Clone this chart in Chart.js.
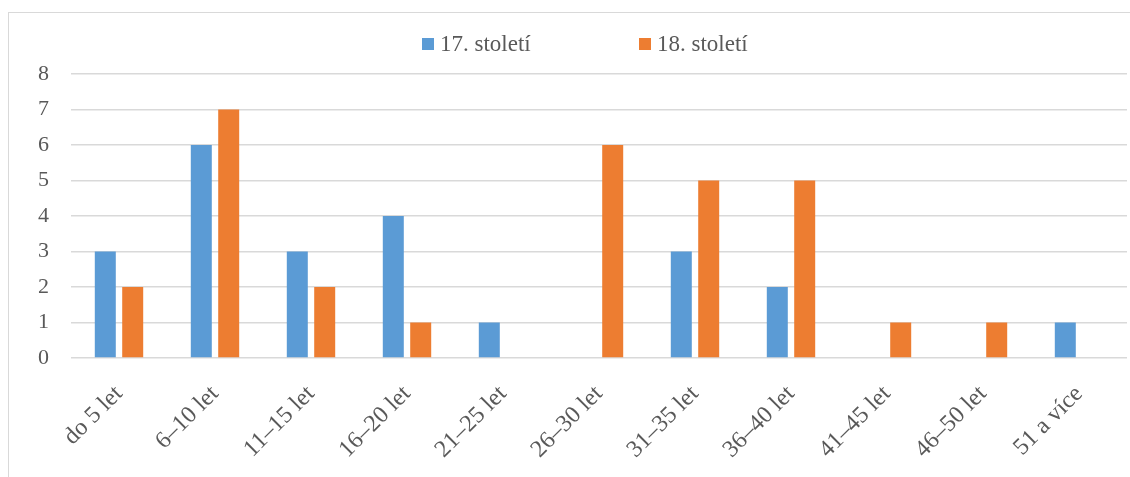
<!DOCTYPE html>
<html>
<head>
<meta charset="utf-8">
<script src="https://cdn.jsdelivr.net/npm/chart.js@4.4.1/dist/chart.umd.min.js"></script>
<style>
  html, body { margin: 0; padding: 0; background: #fff; overflow: hidden; }
  #wrap { position: relative; width: 1130px; height: 477px; }
  #frame { position: absolute; left: 8px; top: 12px; width: 1140px; height: 500px;
           border: 1.5px solid #d9d9d9; box-sizing: border-box; }
  #chart { position: absolute; left: 0; top: 0; }
  .legend { position: absolute; top: 31px; font: 23px "Liberation Serif", "Times New Roman", serif;
            color: #595959; white-space: nowrap; }
  .legend span.box { display: inline-block; width: 12px; height: 12px; margin-right: 6px;
                     vertical-align: 1px; }
</style>
</head>
<body>
<div id="wrap">
  <div id="frame"></div>
  <canvas id="chart" width="1130" height="477"></canvas>
  <div class="legend" id="leg0" style="left:422px"></div>
  <div class="legend" id="leg1" style="left:639px"></div>
</div>
<script>
const categories = ["do 5 let", "6–10 let", "11–15 let", "16–20 let", "21–25 let", "26–30 let",
                    "31–35 let", "36–40 let", "41–45 let", "46–50 let", "51 a více"];
const seriesNames = ["17. století", "18. století"];
const values17 = [3, 6, 3, 4, 1, 0, 3, 2, 0, 0, 1];
const values18 = [2, 7, 2, 1, 0, 6, 5, 5, 1, 1, 0];
const colors = ["#5B9BD5", "#ED7D31"];

const fontFamily = '"Liberation Serif", "Times New Roman", serif';

function createChart(name) {
    let ctx = document.getElementById(name).getContext("2d");
    return new Chart(ctx, {
        type: "bar",
        data: {
            labels: categories,
            datasets: [
                {
                    label: seriesNames[0],
                    data: values17,
                    backgroundColor: colors[0],
                    borderWidth: 0,
                },
                {
                    label: seriesNames[1],
                    data: values18,
                    backgroundColor: colors[1],
                    borderWidth: 0,
                },
            ],
        },
        options: {
            responsive: false,
            animation: false,
            categoryPercentage: 0.571,
            barPercentage: 0.766,
            layout: { padding: { left: 0, top: 74, right: 3, bottom: 0 } },
            plugins: {
                legend: { display: false },
                tooltip: { enabled: false },
            },
            scales: {
                x: {
                    grid: { display: false },
                    border: { display: false },
                    ticks: {
                        font: { family: fontFamily, size: 24 },
                        color: "#595959",
                        minRotation: 45,
                        maxRotation: 45,
                        autoSkip: false,
                        padding: 14,
                    },
                    afterFit: (scale) => { scale.height = 119; },
                },
                y: {
                    min: 0,
                    max: 8,
                    ticks: { stepSize: 1, font: { family: fontFamily, size: 22 }, color: "#595959", padding: 22 },
                    grid: { color: "#d9d9d9", lineWidth: 1.5, drawTicks: false },
                    border: { display: false },
                    afterFit: (scale) => { scale.width = 71; },
                },
            },
        },
    });
}

createChart("chart");

seriesNames.forEach((n, i) => {
    document.getElementById("leg" + i).innerHTML =
        '<span class="box" style="background:' + colors[i] + '"></span>' + n;
});
</script>
</body>
</html>
